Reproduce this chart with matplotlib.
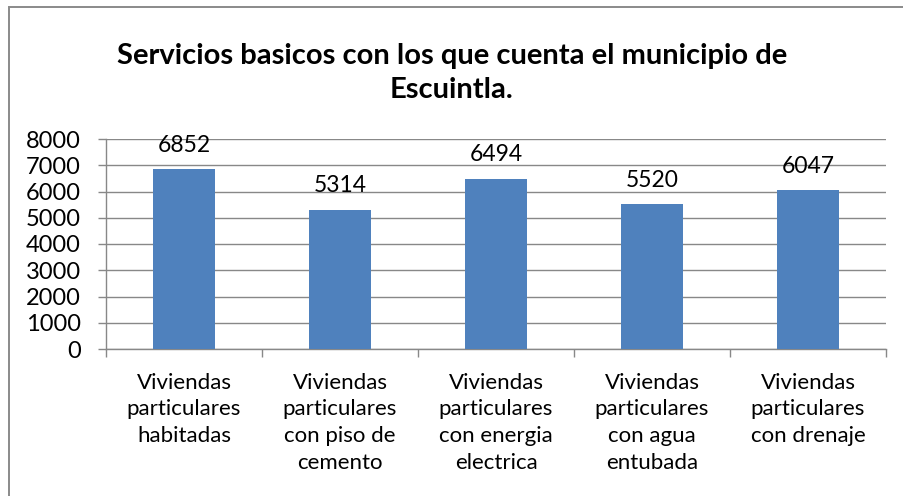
import matplotlib
matplotlib.use("Agg")
import matplotlib.pyplot as plt
from matplotlib.patches import Rectangle
import numpy as np

categories = [
    "Viviendas\nparticulares\nhabitadas",
    "Viviendas\nparticulares\ncon piso de\ncemento",
    "Viviendas\nparticulares\ncon energia\nelectrica",
    "Viviendas\nparticulares\ncon agua\nentubada",
    "Viviendas\nparticulares\ncon drenaje",
]
values = [6852, 5314, 6494, 5520, 6047]
yticks = [0, 1000, 2000, 3000, 4000, 5000, 6000, 7000, 8000]
title = "Servicios basicos con los que cuenta el municipio de\nEscuintla."

plt.rcParams['font.family'] = ['Lato', 'DejaVu Sans']

W, H = 904, 496
fig = plt.figure(figsize=(W / 100, H / 100), dpi=100)
fig.patch.set_facecolor("white")

# outer chart border (cropped on the right and bottom)
fig.patches.append(Rectangle((8.5 / W, -10 / H), (W + 20) / W, (H + 10 - 7.5) / H,
                             transform=fig.transFigure, fill=False,
                             edgecolor="#8a8a8a", linewidth=1.4))

ax = fig.add_axes([106 / W, 1 - 349 / H, (886 - 106) / W, (349 - 139) / H])
x = np.arange(len(categories))
ax.bar(x, values, width=0.4, color="#4F81BD", zorder=3)
for xi, v in zip(x, values):
    ax.text(xi, v + 500, str(v), ha="center", va="bottom", fontsize=16.5, color="black")

ax.set_xlim(-0.5, len(categories) - 0.5)
ax.set_ylim(0, 8000)
ax.set_yticks(yticks)
ax.set_yticklabels([str(t) for t in yticks], fontsize=17)
ax.yaxis.grid(True, color="#888888", linewidth=1.0, zorder=0)
ax.tick_params(axis="y", length=6, color="#888888", width=1.0, pad=12)

ax.set_xticks(np.arange(-0.5, len(categories), 1.0))
ax.set_xticklabels([])
ax.set_xticks(x, minor=True)
ax.set_xticklabels(categories, minor=True, fontsize=16, linespacing=1.42, va="top")
ax.tick_params(axis="x", which="major", length=6, color="#888888", width=1.0)
ax.tick_params(axis="x", which="minor", length=0, pad=17)

for s in ["top", "right"]:
    ax.spines[s].set_visible(False)
for s in ["left", "bottom"]:
    ax.spines[s].set_color("#888888")
    ax.spines[s].set_linewidth(1.0)

fig.text(0.5, 1 - 73 / H, title, ha="center", va="center", fontsize=21,
         fontweight="bold", linespacing=1.4)

fig.savefig("out.png", dpi=100)
